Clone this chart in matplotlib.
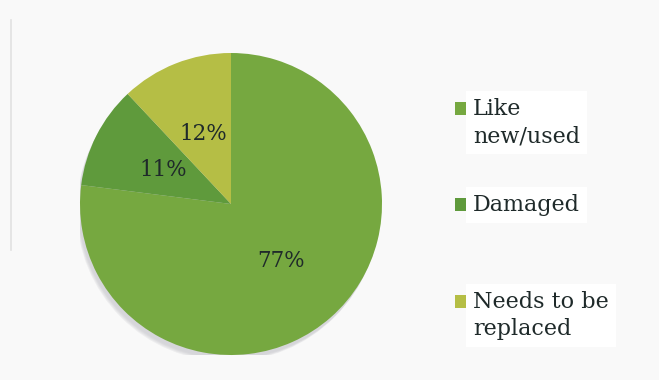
import matplotlib.pyplot as plt
from matplotlib.lines import Line2D
from matplotlib.patches import Circle, Rectangle

# condition of returned items
labels = ['Like\nnew/used', 'Damaged', 'Needs to be\nreplaced']
shares = [77, 11, 12]
colors = ['#76A840', '#5F9A3C', '#B5BE45']

W, H = 659, 380
ink = '#1F2A2A'

fig = plt.figure(figsize=(W / 100, H / 100), dpi=100, facecolor='#F9F9F9')

# faint rule down the left side
fig.add_artist(Line2D([11 / W, 11 / W], [1 - 20 / H, 1 - 250 / H],
                      color='#E2E2E2', lw=1.2))

ax = fig.add_axes([80 / W, 25 / H, 302 / W, 302 / H])
ax.set_facecolor('none')

# soft drop shadow under the pie
for i, a in enumerate([0.04, 0.05, 0.06, 0.07]):
    ax.add_patch(Circle((-0.01 - 0.004 * i, -0.025 - 0.006 * i), 1.0,
                        color='#555566', alpha=a, lw=0, zorder=0))

wedges, _, pcts = ax.pie(shares, colors=colors, startangle=90,
                         counterclock=False, autopct='%d%%', pctdistance=0.5,
                         wedgeprops=dict(linewidth=0),
                         textprops=dict(family='DejaVu Serif', fontsize=15.5,
                                        color=ink))
for w in wedges:
    w.set_zorder(2)
for t in pcts:
    t.set_zorder(3)
ax.set_xlim(-1.0, 1.0)
ax.set_ylim(-1.0, 1.0)

# legend entries, placed by hand to keep the uneven spacing
entry_y = [102, 198, 295]
for lab, col, y in zip(labels, colors, entry_y):
    fig.add_artist(Rectangle((455 / W, 1 - (y + 13) / H), 13 / W, 13 / H,
                             color=col, lw=0))
    fig.text(473 / W, 1 - (y - 4) / H, lab, family='DejaVu Serif',
             fontsize=16, color=ink, va='top', ha='left', linespacing=1.3,
             bbox=dict(facecolor='white', edgecolor='none', pad=5))

fig.savefig('out.png', dpi=100, facecolor=fig.get_facecolor())
